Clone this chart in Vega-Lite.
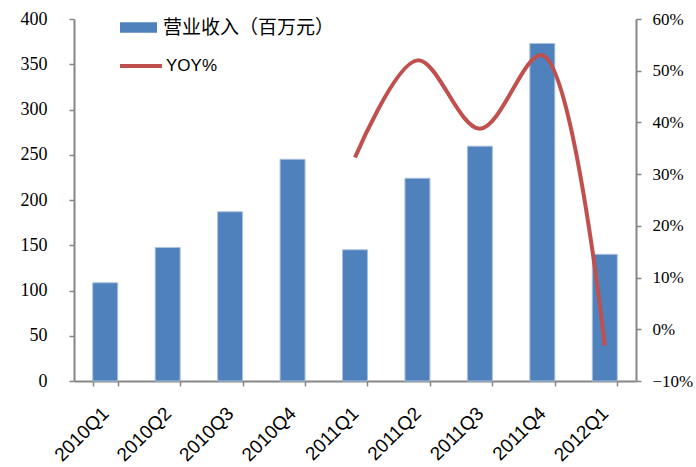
{
  "$schema": "https://vega.github.io/schema/vega-lite/v6.json",
  "width": 562,
  "height": 362,
  "autosize": {"type": "none"},
  "padding": {"left": 74, "top": 19, "right": 60, "bottom": 86},
  "background": "white",
  "data": {
    "values": [
      {"q": "2010Q1", "rev": 108.5, "yoy": null},
      {"q": "2010Q2", "rev": 147.5, "yoy": null},
      {"q": "2010Q3", "rev": 187, "yoy": null},
      {"q": "2010Q4", "rev": 245, "yoy": null},
      {"q": "2011Q1", "rev": 145, "yoy": 0.332},
      {"q": "2011Q2", "rev": 224, "yoy": 0.52},
      {"q": "2011Q3", "rev": 259.5, "yoy": 0.388},
      {"q": "2011Q4", "rev": 373, "yoy": 0.53},
      {"q": "2012Q1", "rev": 140, "yoy": -0.032}
    ]
  },
  "config": {
    "view": {"stroke": null},
    "axis": {
      "grid": false,
      "domainColor": "#868686",
      "domainWidth": 2,
      "tickColor": "#868686",
      "tickWidth": 1.5,
      "tickSize": 5,
      "labelColor": "#000000",
      "title": null
    }
  },
  "encoding": {
    "x": {
      "field": "q",
      "type": "ordinal",
      "sort": null,
      "scale": {"paddingInner": 0.6, "paddingOuter": 0.3},
      "axis": {
        "title": null,
        "labelAngle": -45,
        "labelAlign": "right",
        "labelBaseline": "middle",
        "labelFont": "Liberation Sans",
        "labelFontSize": 19,
        "labelPadding": 24,
        "labelDx": 4,
        "tickBand": "extent",
        "tickSize": 5
      }
    }
  },
  "layer": [
    {
      "mark": {"type": "bar", "stroke": "#a9c1e0", "strokeWidth": 1},
      "encoding": {
        "y": {
          "field": "rev",
          "type": "quantitative",
          "scale": {"domain": [0, 400], "nice": false},
          "axis": {
            "title": null,
            "values": [0, 50, 100, 150, 200, 250, 300, 350, 400],
            "labelFont": "Liberation Serif",
            "labelFontSize": 18,
            "labelPadding": 22
          }
        },
        "fill": {
          "datum": "营业收入（百万元）",
          "scale": {"range": ["#4F81BD"]},
          "legend": {
            "orient": "none",
            "legendX": 46,
            "legendY": -10,
            "title": null,
            "padding": 0,
            "symbolType": "M-1,-0.29H1V0.29H-1Z",
            "symbolSize": 1369,
            "symbolStrokeWidth": 0,
            "labelOffset": 6,
            "labelFont": "Noto Sans CJK SC",
            "labelFontSize": 19,
            "labelColor": "#000000",
            "labelLimit": 300
          }
        }
      }
    },
    {
      "transform": [{"filter": "datum.yoy != null"}],
      "mark": {"type": "line", "strokeWidth": 4, "interpolate": "catmull-rom"},
      "encoding": {
        "y": {
          "field": "yoy",
          "type": "quantitative",
          "scale": {"domain": [-0.1, 0.6], "nice": false},
          "axis": {
            "title": null,
            "orient": "right",
            "format": ".0%",
            "values": [-0.1, 0, 0.1, 0.2, 0.3, 0.4, 0.5, 0.6],
            "labelFont": "Liberation Serif",
            "labelFontSize": 17,
            "labelPadding": 11
          }
        },
        "stroke": {
          "datum": "YOY%",
          "scale": {"range": ["#C0504D"]},
          "legend": {
            "orient": "none",
            "legendX": 44,
            "legendY": 24,
            "title": null,
            "padding": 0,
            "symbolType": "M-1,0H1",
            "symbolSize": 1764,
            "symbolStrokeWidth": 4,
            "labelOffset": 2,
            "labelFont": "Liberation Sans",
            "labelFontSize": 17,
            "labelColor": "#000000"
          }
        }
      }
    }
  ],
  "resolve": {"scale": {"y": "independent"}}
}
